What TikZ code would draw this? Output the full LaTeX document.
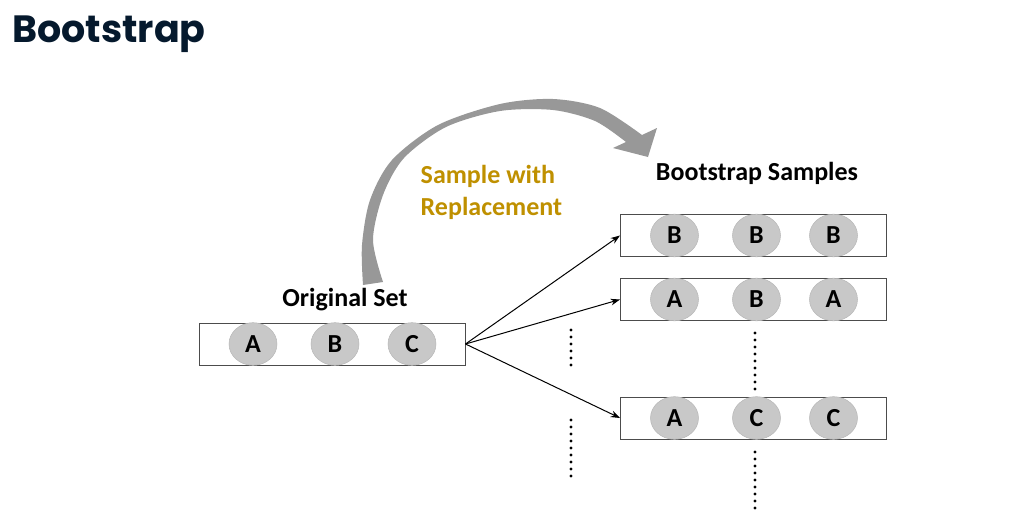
\documentclass[tikz,border=0pt]{standalone}
\usepackage{fontspec}
\setmainfont{Carlito}
\newfontfamily\titlefont{Poppins}
\usetikzlibrary{arrows.meta,shapes.geometric}
\definecolor{titleblue}{HTML}{05192D}
\definecolor{goldtxt}{HTML}{BF9000}
\definecolor{ballgray}{RGB}{200,200,200}
\definecolor{curvegray}{RGB}{152,152,152}

\begin{document}
\begin{tikzpicture}[
  x=0.75pt, y=-0.75pt,
  % ── Row box ─────────────────────────────────────────────
  setbox/.style={
    rectangle,
    draw           = black!70,
    line width     = 0.75pt,
    minimum width  = 199.5pt,
    minimum height = 31.5pt,
    inner sep      = 0pt
  },
  % ── Element ball ────────────────────────────────────────
  ball/.style={
    ellipse,
    fill           = ballgray,
    draw           = ballgray!92!black,
    line width     = 0.4pt,
    minimum width  = 36pt,
    minimum height = 32pt,
    inner sep      = 0pt,
    font           = \fontsize{19.5}{22}\selectfont\bfseries
  },
  % ── Heading text ────────────────────────────────────────
  heading/.style={
    font = \fontsize{19.5}{24}\selectfont\bfseries
  },
  % ── Arrow ───────────────────────────────────────────────
  arr/.style={
    -{Stealth[length=7pt,width=5pt]},
    line width = 0.75pt
  },
  % ── Dotted continuation ─────────────────────────────────
  dots/.style={
    line width   = 2.4pt,
    line cap     = round,
    dash pattern = on 0pt off 5.25pt
  }
]
\useasboundingbox (0,0) rectangle (1033,525);

% ── Title ──────────────────────────────────────────────────
\node[anchor=base west, inner sep=0pt, text=titleblue,
      font=\titlefont\fontsize{28.5}{32}\selectfont\bfseries] (title) at (12,42) {Bootstrap};

% ── Boxes ──────────────────────────────────────────────────
\node[setbox] (orig) at (332,344)   {};
\node[setbox] (smpa) at (753.5,235.5) {};
\node[setbox] (smpb) at (753.5,299.5) {};
\node[setbox] (smpc) at (753.5,418)   {};

% ── Balls ──────────────────────────────────────────────────
\foreach \b/\l/\m/\r in {orig/A/B/C, smpa/B/B/B, smpb/A/B/A, smpc/A/C/C} {
  \node[ball] (\b-l) at ([xshift=-59.25pt]\b.center) {\l};
  \node[ball] (\b-m) at ([xshift=2.25pt]\b.center)   {\m};
  \node[ball] (\b-r) at ([xshift=60pt]\b.center)     {\r};
}

% ── Headings ───────────────────────────────────────────────
\node[heading] (origlbl) at (345,300) {Original Set};
\node[heading] (smplbl)  at (757,173) {Bootstrap Samples};
\node[heading, text=goldtxt, align=left, anchor=west] (swr) at (416,192) {Sample with\\Replacement};

% ── Arrows ─────────────────────────────────────────────────
\foreach \t in {smpa, smpb, smpc}
  \draw[arr] (orig.east) -- (\t.west);

% ── Curved arrow ───────────────────────────────────────────
\fill[curvegray]
  plot[smooth] coordinates {(363,285) (362,245) (370,200) (392,160) (438,125)
                            (500,104) (553,99) (600,108) (642,135)}
  -- (657,128) -- (648,157) -- (613,148) -- (626,142)
  -- plot[smooth] coordinates {(626,142) (595,121) (553,110) (500,111) (446,127)
                               (404,158) (383,195) (373,240) (383,282)}
  -- cycle;

% ── Dotted lines ───────────────────────────────────────────
\coordinate (la1) at (571,330);
\coordinate (la2) at (571,366);
\coordinate (lb1) at (571,420);
\coordinate (lb2) at (571,477);
\coordinate (ma1) at (755,333);
\coordinate (ma2) at (755,389);
\coordinate (mb1) at (755,452);
\coordinate (mb2) at (755,508);
\draw[dots] (la1) -- (la2);
\draw[dots] (lb1) -- (lb2);
\draw[dots] (ma1) -- (ma2);
\draw[dots] (mb1) -- (mb2);

\end{tikzpicture}
\end{document}
